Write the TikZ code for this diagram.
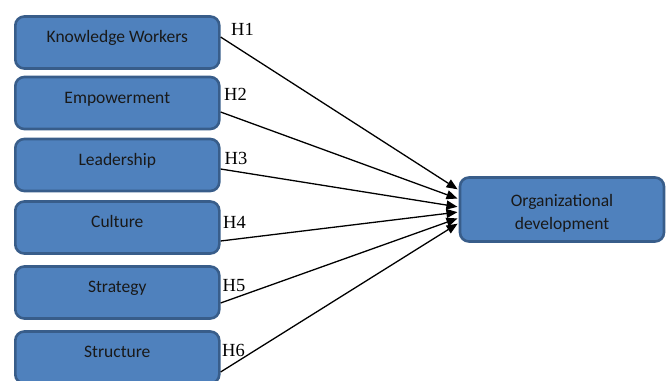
\documentclass[tikz,border=0pt]{standalone}
\usepackage{fontspec}
\setmainfont{Liberation Serif}
\newfontfamily\boxfont{Carlito}
\usetikzlibrary{arrows.meta}
\definecolor{boxfill}{HTML}{4F81BD}
\definecolor{boxline}{HTML}{385D8A}
\begin{document}
\begin{tikzpicture}[x=1pt,y=-1pt,
  box/.style={draw=boxline, fill=boxfill, line width=2.6pt, rounded corners=9pt,
    minimum width=204pt, minimum height=52pt, inner sep=0pt},
  boxtext/.style={font=\boxfont\fontsize{17.5}{21}\selectfont, text=black!90, inner sep=0pt, anchor=base},
  hlabel/.style={font=\fontsize{18.5}{20}\selectfont, inner sep=0pt},
  link/.style={line width=1.3pt, shorten >=1.3pt, -{Triangle[length=11pt,width=9pt]}}]
\useasboundingbox (0,0) rectangle (669,380);
% source boxes
\node[box] (k1) at (117.3,42.5) {};
\node[box] (k2) at (117.3,103) {};
\node[box] (k3) at (117.3,165) {};
\node[box] (k4) at (117.3,227.5) {};
\node[box] (k5) at (117.3,292.5) {};
\node[box] (k6) at (117.3,357.5) {};
\node[boxtext] (t1) at (k1.center) {Knowledge Workers};
\node[boxtext] (t2) at (k2.center) {Empowerment};
\node[boxtext] (t3) at (k3.center) {Leadership};
\node[boxtext] (t4) at (k4.center) {Culture};
\node[boxtext] (t5) at (k5.center) {Strategy};
\node[boxtext] (t6) at (k6.center) {Structure};
% target
\node[box, minimum height=64pt] (org) at (562,209.5) {};
\node[align=center, inner sep=0pt, font=\boxfont\fontsize{17.5}{22.7}\selectfont, text=black!90] (t7) at ([yshift=-3.5pt]org.center) {Organizational\\development};
% connectors
\draw[link] ([yshift=5.5pt]k1.east) -- ([yshift=19.5pt]org.west);
\draw[link] ([yshift=-9pt]k2.east) -- ([yshift=10.5pt]org.west);
\draw[link] ([yshift=-4pt]k3.east) -- ([yshift=2.5pt]org.west);
\draw[link] ([yshift=-13.5pt]k4.east) -- ([yshift=-2.5pt]org.west);
\draw[link] ([yshift=-10.5pt]k5.east) -- ([yshift=-8.5pt]org.west);
\draw[link] ([yshift=-14.5pt]k6.east) -- ([yshift=-13.5pt]org.west);
% hypothesis labels
\node[hlabel] (h1) at (242.5,29) {H1};
\node[hlabel] (h2) at (235.5,94) {H2};
\node[hlabel] (h3) at (236,158) {H3};
\node[hlabel] (h4) at (234.5,222.5) {H4};
\node[hlabel] (h5) at (234,286) {H5};
\node[hlabel] (h6) at (233.5,350.5) {H6};
\end{tikzpicture}
\end{document}
